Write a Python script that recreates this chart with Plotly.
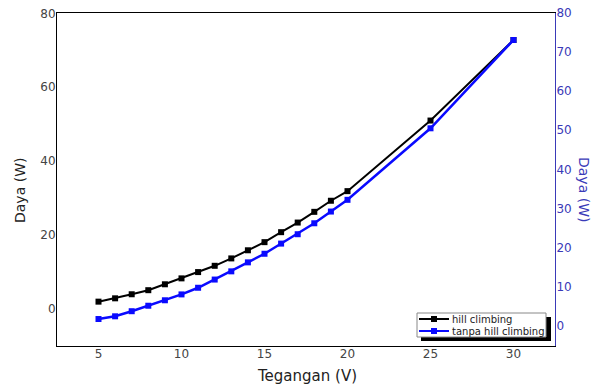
import plotly.graph_objects as go

tegangan = [5, 6, 7, 8, 9, 10, 11, 12, 13, 14, 15, 16, 17, 18, 19, 20, 25, 30]
daya_hill = [2.0, 2.9, 4.0, 5.1, 6.7, 8.3, 10.0, 11.7, 13.7, 15.9, 18.1, 20.8, 23.4, 26.3, 29.3, 31.9, 51.0, 72.8]
daya_tanpa = [1.7, 2.4, 3.7, 5.1, 6.5, 8.0, 9.7, 11.8, 13.9, 16.2, 18.4, 21.0, 23.4, 26.2, 29.2, 32.2, 50.5, 73.1]

names = ["hill climbing", "tanpa hill climbing"]
left_ticks = [0, 20, 40, 60, 80]
right_ticks = [0, 10, 20, 30, 40, 50, 60, 70, 80]
x_ticks = [5, 10, 15, 20, 25, 30]

FONT = "DejaVu Sans, sans-serif"
BLUE = "#0a0aff"
AXBLUE = "#3a3ab8"
colors = ["black", BLUE]

# plot area in pixels
L, R, T, B = 57, 555, 13, 346
W, H = 592, 388


def px(x):
    return (x - L) / (R - L)


def py(y):
    return (B - y) / (B - T)


fig = go.Figure()
fig.add_trace(go.Scatter(x=tegangan, y=daya_hill, name=names[0], mode="lines+markers",
                         line=dict(color=colors[0], width=2),
                         marker=dict(symbol="square", size=6, color=colors[0])))
fig.add_trace(go.Scatter(x=tegangan, y=daya_tanpa, name=names[1], mode="lines+markers",
                         yaxis="y2",
                         line=dict(color=colors[1], width=2.5),
                         marker=dict(symbol="square", size=6, color=colors[1])))

fig.update_layout(
    width=W, height=H,
    margin=dict(l=L, r=W - R, t=T, b=H - B),
    paper_bgcolor="white", plot_bgcolor="white",
    font=dict(family=FONT, size=12, color="#333333"),
    showlegend=False,
    xaxis=dict(range=[2.5, 32.5], tickvals=x_ticks, showgrid=False, zeroline=False,
               showline=True, linecolor="black", linewidth=1, mirror=True, ticks="",
               ticklen=0, ticklabelstandoff=-3, automargin=False,
               tickfont=dict(size=12, color="#444444")),
    yaxis=dict(range=[-10, 80.1], tickvals=left_ticks, showgrid=False, zeroline=False,
               showline=True, linecolor="black", linewidth=1, ticks="", ticklen=0,
               ticklabelstandoff=-2, automargin=False,
               tickfont=dict(size=12, color="#444444")),
    yaxis2=dict(range=[-5.2, 80], tickvals=right_ticks, overlaying="y", side="right",
                showgrid=False, zeroline=False, showline=True, linecolor=AXBLUE, linewidth=1,
                ticks="", ticklen=0, ticklabelstandoff=-2, automargin=False,
                tickfont=dict(size=12, color=AXBLUE)),
)

# axis titles
fig.add_annotation(text="Tegangan (V)", xref="paper", yref="paper", x=px(307), y=py(376),
                   xanchor="center", yanchor="middle",
                   showarrow=False, font=dict(size=15, color="#222222"))
fig.add_annotation(text="Daya (W)", xref="paper", yref="paper", x=px(20), y=py(191),
                   xanchor="center", yanchor="middle",
                   textangle=-90, showarrow=False, font=dict(size=14, color="#222222"))
fig.add_annotation(text="Daya (W)", xref="paper", yref="paper", x=px(584), y=py(189),
                   xanchor="center", yanchor="middle",
                   textangle=90, showarrow=False, font=dict(size=14, color=AXBLUE))

# legend (drawn manually to match the compact boxed legend with drop shadow)
fig.add_shape(type="rect", xref="paper", yref="paper",
              x0=px(421), x1=px(551), y0=py(341), y1=py(317),
              fillcolor="black", line=dict(width=0), layer="above")
fig.add_shape(type="rect", xref="paper", yref="paper",
              x0=px(417), x1=px(546), y0=py(337), y1=py(313),
              fillcolor="white", line=dict(color="#888888", width=1), layer="above")
rows = [319, 331]
for name, col, ry in zip(names, colors, rows):
    fig.add_shape(type="line", xref="paper", yref="paper",
                  x0=px(419), x1=px(449), y0=py(ry), y1=py(ry),
                  line=dict(color=col, width=2), layer="above")
    fig.add_shape(type="rect", xref="paper", yref="paper",
                  x0=px(431), x1=px(437), y0=py(ry + 3), y1=py(ry - 3),
                  fillcolor=col, line=dict(width=0), layer="above")
    fig.add_annotation(text=name, xref="paper", yref="paper", x=px(450), y=py(ry),
                       xanchor="left", yanchor="middle", showarrow=False,
                       font=dict(size=10, color="#222222"))

fig.write_html("out.html", config={"displayModeBar": False},
               post_script="document.body.style.margin='0';document.body.style.padding='0';")
